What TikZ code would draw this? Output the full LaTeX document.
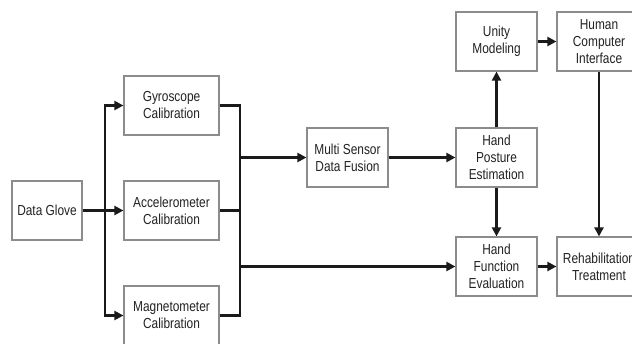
\documentclass[tikz,border=0pt]{standalone}
\usepackage{fontspec}
\setmainfont{Liberation Sans}[FakeStretch=0.82]
\usetikzlibrary{arrows.meta}
\definecolor{boxgray}{HTML}{8C8C8C}
\definecolor{linedark}{HTML}{1A1A1A}
\definecolor{textdark}{HTML}{222222}
\begin{document}
\begin{tikzpicture}[x=1pt,y=-1pt,
  blk/.style={draw=boxgray, line width=1.2pt, fill=white, minimum height=59pt,
    align=center, inner sep=1pt, text=textdark,
    font=\fontsize{14.5}{17}\selectfont},
  conn/.style={draw=linedark, line width=2.2pt},
  arr/.style={conn, -{Triangle[length=9pt,width=9pt]}}]
\useasboundingbox (0,0) rectangle (632,343);
\clip (0,0) rectangle (632,343);
\fill[white] (0,0) rectangle (632,343);

\node[blk, minimum width=70pt] (glove) at (47,210.5) {Data Glove};
\node[blk, minimum width=95pt] (gyro) at (171.5,105.5) {Gyroscope\\Calibration};
\node[blk, minimum width=95pt] (accel) at (171.5,210.5) {Accelerometer\\Calibration};
\node[blk, minimum width=95pt] (magn) at (171.5,315.5) {Magnetometer\\Calibration};
\node[blk, minimum width=81pt] (fusion) at (347.5,157.5) {Multi Sensor\\Data Fusion};
\node[blk, minimum width=81pt] (posture) at (496.5,157.5) {Hand\\Posture\\Estimation};
\node[blk, minimum width=81pt] (unity) at (496.5,41.5) {Unity\\Modeling};
\node[blk, minimum width=84pt] (hci) at (599,41.5) {Human\\Computer\\Interface};
\node[blk, minimum width=81pt] (eval) at (496.5,266.5) {Hand\\Function\\Evaluation};
\node[blk, minimum width=84pt] (rehab) at (599,266.5) {Rehabilitation\\Treatment};

\coordinate (split) at (105,210.5);
\coordinate (bus) at (240,157.5);
\coordinate (bus2) at (240,266.5);

\draw[arr] (glove.east) -- (accel.west);
\draw[arr] (split) |- (gyro.west);
\draw[arr] (split) |- (magn.west);

\draw[conn] (gyro.east) -| (bus2);
\draw[conn] (magn.east) -| (bus2);
\draw[conn] (accel.east) -- (accel.east -| bus);
\draw[arr] (bus) -- (fusion.west);
\draw[arr] (bus2) -- (eval.west);

\draw[arr] (fusion.east) -- (posture.west);
\draw[arr] (posture.north) -- (unity.south);
\draw[arr] (unity.east) -- (hci.west);
\draw[arr] (posture.south) -- (eval.north);
\draw[arr] (hci.south) -- (rehab.north);
\draw[arr] (eval.east) -- (rehab.west);
\end{tikzpicture}
\end{document}
